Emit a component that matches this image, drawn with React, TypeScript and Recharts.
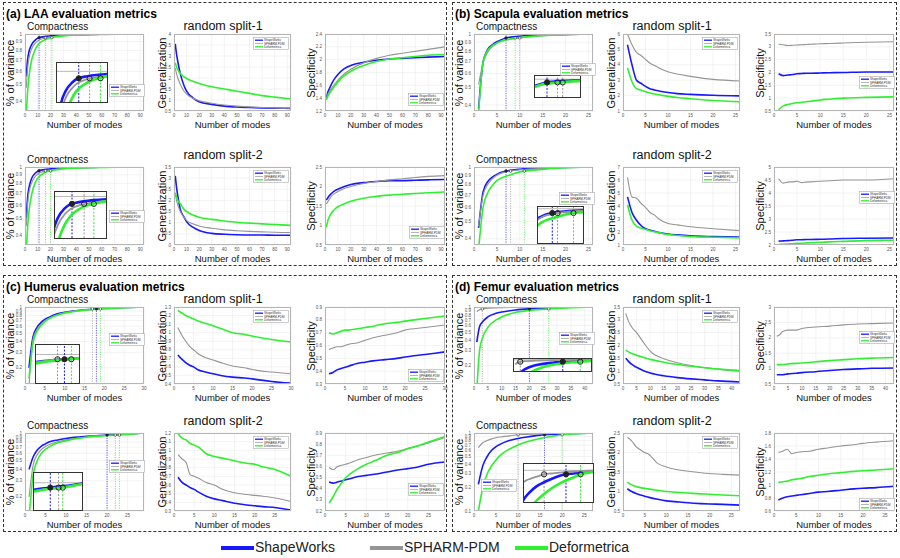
import React from "react";
import { LineChart, Line, XAxis, YAxis, CartesianGrid, ReferenceLine, ReferenceDot } from "recharts";

const FONT = '"Liberation Sans", Arial, Helvetica, sans-serif';
const BLUE = "#1818ff";
const GRAY = "#959595";
const GREEN = "#2ff02f";
const colors = [BLUE, GRAY, GREEN];
const methods = ["ShapeWorks", "SPHARM-PDM", "Deformetrica"];

// ---------- LAA ----------
const laaModes = [1, 2, 3, 5, 8, 10, 15, 20, 30, 40, 50, 60, 70, 80, 93];
const laaS1CompSW = [0.56, 0.7, 0.78, 0.86, 0.92, 0.945, 0.965, 0.975, 0.986, 0.991, 0.994, 0.996, 0.998, 0.999, 1];
const laaS1CompSP = [0.48, 0.62, 0.71, 0.81, 0.88, 0.91, 0.945, 0.96, 0.978, 0.986, 0.991, 0.994, 0.997, 0.999, 1];
const laaS1CompDF = [0.33, 0.45, 0.55, 0.69, 0.81, 0.86, 0.92, 0.95, 0.975, 0.985, 0.99, 0.994, 0.997, 0.999, 1];
const laaS1GenSW = [3.55, 3.1, 2.75, 2.2, 1.65, 1.4, 1.1, 0.92, 0.8, 0.72, 0.68, 0.66, 0.64, 0.63, 0.62];
const laaS1GenSP = [2.45, 2.2, 2.0, 1.72, 1.4, 1.27, 1.08, 0.97, 0.85, 0.77, 0.72, 0.69, 0.66, 0.64, 0.63];
const laaS1GenDF = [2.7, 2.5, 2.38, 2.2, 2.05, 1.98, 1.85, 1.75, 1.6, 1.5, 1.4, 1.3, 1.2, 1.13, 1.05];
const laaS1SpecSW = [1.38, 1.48, 1.53, 1.62, 1.72, 1.77, 1.86, 1.91, 1.96, 1.99, 2.01, 2.02, 2.03, 2.04, 2.05];
const laaS1SpecSP = [1.4, 1.45, 1.49, 1.55, 1.63, 1.68, 1.78, 1.85, 1.95, 2.02, 2.07, 2.1, 2.13, 2.16, 2.2];
const laaS1SpecDF = [1.38, 1.42, 1.46, 1.52, 1.6, 1.65, 1.75, 1.82, 1.91, 1.97, 2.01, 2.03, 2.05, 2.07, 2.08];
const laaS1Cut = [11, 16, 21];

const laaS2CompSW = [0.5, 0.66, 0.75, 0.85, 0.92, 0.945, 0.965, 0.975, 0.986, 0.991, 0.994, 0.996, 0.998, 0.999, 1];
const laaS2CompSP = [0.45, 0.6, 0.7, 0.8, 0.88, 0.91, 0.945, 0.96, 0.978, 0.986, 0.991, 0.994, 0.997, 0.999, 1];
const laaS2CompDF = [0.33, 0.44, 0.54, 0.68, 0.81, 0.86, 0.925, 0.952, 0.975, 0.985, 0.99, 0.994, 0.997, 0.999, 1];
const laaS2GenSW = [3.1, 2.6, 2.2, 1.6, 1.25, 1.05, 0.8, 0.65, 0.52, 0.48, 0.46, 0.45, 0.45, 0.44, 0.44];
const laaS2GenSP = [2.3, 2.0, 1.8, 1.5, 1.25, 1.1, 0.95, 0.85, 0.75, 0.68, 0.64, 0.61, 0.59, 0.57, 0.56];
const laaS2GenDF = [2.35, 2.15, 2.0, 1.85, 1.6, 1.5, 1.35, 1.25, 1.15, 1.08, 1.02, 0.98, 0.95, 0.92, 0.88];
const laaS2SpecSW = [1.65, 1.7, 1.75, 1.82, 1.9, 1.93, 2.0, 2.05, 2.1, 2.13, 2.15, 2.15, 2.16, 2.17, 2.18];
const laaS2SpecSP = [1.55, 1.6, 1.65, 1.75, 1.83, 1.87, 1.95, 2.0, 2.08, 2.13, 2.17, 2.2, 2.23, 2.26, 2.28];
const laaS2SpecDF = [0.95, 1.1, 1.2, 1.32, 1.43, 1.48, 1.56, 1.62, 1.7, 1.75, 1.78, 1.8, 1.82, 1.84, 1.86];
const laaS2Cut = [11, 16, 20];

// ---------- Scapula ----------
const scapModes = [1, 2, 3, 4, 5, 6, 7, 8, 10, 12, 15, 20, 26];
const scapS1CompSW = [0.38, 0.7, 0.82, 0.87, 0.905, 0.93, 0.95, 0.96, 0.972, 0.98, 0.987, 0.995, 1];
const scapS1CompSP = [0.52, 0.69, 0.79, 0.85, 0.885, 0.91, 0.925, 0.935, 0.95, 0.962, 0.975, 0.99, 1];
const scapS1CompDF = [0.36, 0.7, 0.81, 0.86, 0.89, 0.915, 0.93, 0.94, 0.955, 0.967, 0.98, 0.992, 1];
const scapS1GenSW = [5.3, 4.0, 3.0, 2.8, 2.6, 2.45, 2.37, 2.3, 2.2, 2.13, 2.08, 2.02, 1.98];
const scapS1GenSP = [6.0, 5.3, 4.8, 4.6, 4.35, 4.1, 3.95, 3.8, 3.55, 3.4, 3.25, 3.05, 2.95];
const scapS1GenDF = [3.8, 2.9, 2.45, 2.35, 2.25, 2.17, 2.1, 2.05, 1.95, 1.88, 1.8, 1.68, 1.6];
const scapS1SpecSW = [1.95, 1.88, 1.9, 1.92, 1.95, 1.96, 1.97, 1.97, 1.98, 1.99, 2.0, 2.02, 2.02];
const scapS1SpecSP = [3.1, 3.08, 3.05, 3.06, 3.07, 3.08, 3.09, 3.1, 3.12, 3.13, 3.15, 3.18, 3.2];
const scapS1SpecDF = [0.55, 0.7, 0.75, 0.79, 0.82, 0.84, 0.86, 0.88, 0.93, 0.96, 1.0, 1.03, 1.05];
const scapS1Cut = [7, 10, 9];

const scapS2CompSW = [0.46, 0.73, 0.83, 0.88, 0.91, 0.935, 0.95, 0.96, 0.972, 0.98, 0.987, 0.995, 1];
const scapS2CompSP = [0.47, 0.7, 0.8, 0.86, 0.9, 0.925, 0.94, 0.95, 0.965, 0.975, 0.985, 0.994, 1];
const scapS2CompDF = [0.35, 0.6, 0.72, 0.79, 0.84, 0.87, 0.89, 0.905, 0.94, 0.955, 0.97, 0.99, 1];
const scapS2GenSW = [4.7, 3.5, 2.9, 2.5, 2.25, 2.15, 2.05, 1.95, 1.85, 1.78, 1.7, 1.65, 1.62];
const scapS2GenSP = [6.2, 4.7, 4.6, 4.2, 3.9, 3.5, 3.3, 3.0, 2.65, 2.55, 2.4, 2.25, 2.1];
const scapS2GenDF = [4.1, 2.9, 2.45, 2.3, 2.2, 2.1, 2.02, 1.95, 1.8, 1.73, 1.65, 1.6, 1.55];
const scapS2SpecSW = [2.15, 2.16, 2.17, 2.18, 2.2, 2.2, 2.21, 2.21, 2.22, 2.23, 2.25, 2.26, 2.27];
const scapS2SpecSP = [4.55, 4.38, 4.42, 4.43, 4.45, 4.4, 4.42, 4.43, 4.45, 4.47, 4.5, 4.5, 4.55];
const scapS2SpecDF = [2.02, 2.03, 2.04, 2.05, 2.07, 2.07, 2.08, 2.09, 2.1, 2.12, 2.14, 2.17, 2.18];
const scapS2Cut = [7, 8, 11];

// ---------- Humerus ----------
const humS1Modes = [1, 2, 3, 4, 5, 6, 8, 10, 12, 15, 18, 20, 25, 30];
const humS1CompSW = [0.2, 0.45, 0.58, 0.66, 0.72, 0.76, 0.83, 0.87, 0.9, 0.93, 0.95, 0.96, 0.985, 1];
const humS1CompSP = [0.12, 0.42, 0.55, 0.63, 0.69, 0.74, 0.81, 0.86, 0.89, 0.93, 0.955, 0.965, 0.985, 1];
const humS1CompDF = [0.15, 0.38, 0.52, 0.61, 0.68, 0.73, 0.8, 0.85, 0.88, 0.92, 0.945, 0.957, 0.982, 1];
const humS1GenSW = [0.74, 0.69, 0.65, 0.62, 0.6, 0.57, 0.54, 0.52, 0.5, 0.48, 0.47, 0.46, 0.43, 0.41];
const humS1GenSP = [1.06, 0.97, 0.9, 0.84, 0.8, 0.76, 0.71, 0.68, 0.65, 0.61, 0.59, 0.57, 0.54, 0.52];
const humS1GenDF = [1.26, 1.23, 1.2, 1.18, 1.16, 1.14, 1.11, 1.08, 1.05, 1.0, 0.98, 0.96, 0.92, 0.89];
const humS1SpecSW = [0.38, 0.39, 0.41, 0.42, 0.43, 0.44, 0.46, 0.47, 0.48, 0.49, 0.5, 0.51, 0.53, 0.55];
const humS1SpecSP = [0.57, 0.58, 0.59, 0.59, 0.6, 0.61, 0.62, 0.64, 0.66, 0.68, 0.7, 0.72, 0.74, 0.76];
const humS1SpecDF = [0.7, 0.69, 0.7, 0.71, 0.72, 0.72, 0.73, 0.74, 0.75, 0.77, 0.78, 0.79, 0.81, 0.83];
const humS1Cut = [18, 17, 19];

const humS2Modes = [1, 2, 3, 4, 5, 6, 8, 10, 12, 15, 18, 20, 22, 25, 29];
const humS2CompSW = [0.4, 0.55, 0.65, 0.72, 0.76, 0.8, 0.84, 0.87, 0.895, 0.92, 0.94, 0.95, 0.96, 0.975, 1];
const humS2CompSP = [0.2, 0.45, 0.58, 0.66, 0.71, 0.75, 0.8, 0.84, 0.87, 0.905, 0.93, 0.94, 0.95, 0.968, 1];
const humS2CompDF = [0.12, 0.35, 0.5, 0.6, 0.66, 0.71, 0.78, 0.82, 0.86, 0.9, 0.925, 0.938, 0.945, 0.965, 1];
const humS2GenSW = [0.69, 0.63, 0.6, 0.57, 0.55, 0.52, 0.47, 0.44, 0.42, 0.39, 0.37, 0.36, 0.35, 0.34, 0.31];
const humS2GenSP = [0.95, 0.9, 0.86, 0.72, 0.7, 0.68, 0.63, 0.6, 0.55, 0.51, 0.49, 0.48, 0.47, 0.45, 0.41];
const humS2GenDF = [1.19, 1.14, 1.12, 1.08, 1.06, 1.04, 0.96, 0.93, 0.91, 0.88, 0.85, 0.84, 0.81, 0.78, 0.7];
const humS2SpecSW = [0.46, 0.45, 0.46, 0.47, 0.48, 0.49, 0.51, 0.52, 0.53, 0.55, 0.57, 0.58, 0.59, 0.62, 0.64];
const humS2SpecSP = [0.59, 0.57, 0.6, 0.61, 0.62, 0.63, 0.66, 0.68, 0.7, 0.72, 0.74, 0.76, 0.78, 0.81, 0.86];
const humS2SpecDF = [0.27, 0.33, 0.4, 0.45, 0.5, 0.53, 0.58, 0.62, 0.65, 0.7, 0.73, 0.76, 0.78, 0.82, 0.87];
const humS2Cut = [20, 22, 23];

// ---------- Femur ----------
const femS1Modes = [1, 2, 3, 5, 8, 10, 15, 20, 25, 30, 35, 43];
const femS1CompSW = [0.38, 0.58, 0.66, 0.76, 0.84, 0.87, 0.92, 0.95, 0.97, 0.985, 0.993, 1];
const femS1CompSP = [0.88, 0.93, 0.95, 0.965, 0.975, 0.98, 0.99, 0.993, 0.996, 0.998, 0.999, 1];
const femS1CompDF = [0.1, 0.3, 0.42, 0.57, 0.7, 0.76, 0.86, 0.91, 0.94, 0.962, 0.98, 1];
const femS1GenSW = [1.5, 1.38, 1.28, 1.15, 1.0, 0.93, 0.82, 0.75, 0.7, 0.66, 0.62, 0.58];
const femS1GenSP = [3.25, 2.95, 2.75, 2.5, 2.05, 1.78, 1.48, 1.33, 1.22, 1.14, 1.08, 1.0];
const femS1GenDF = [1.82, 1.75, 1.7, 1.62, 1.52, 1.46, 1.35, 1.26, 1.19, 1.13, 1.08, 1.02];
const femS1SpecSW = [0.8, 0.8, 0.8, 0.83, 0.85, 0.87, 0.9, 0.94, 0.97, 0.99, 1.01, 1.02];
const femS1SpecSP = [2.05, 2.1, 2.2, 2.25, 2.25, 2.3, 2.35, 2.38, 2.42, 2.45, 2.46, 2.48];
const femS1SpecDF = [1.13, 1.13, 1.13, 1.15, 1.17, 1.18, 1.22, 1.26, 1.29, 1.32, 1.34, 1.36];
const femS1Cut = [20, 3, 27];

const femS2Modes = [1, 2, 3, 4, 5, 6, 8, 10, 12, 15, 18, 20, 23, 27];
const femS2CompSW = [0.22, 0.38, 0.5, 0.6, 0.67, 0.72, 0.8, 0.85, 0.89, 0.94, 0.96, 0.97, 0.985, 1];
const femS2CompSP = [0.65, 0.75, 0.8, 0.84, 0.87, 0.89, 0.92, 0.95, 0.96, 0.975, 0.985, 0.99, 0.995, 1];
const femS2CompDF = [0.1, 0.2, 0.3, 0.38, 0.45, 0.52, 0.62, 0.7, 0.77, 0.85, 0.91, 0.95, 0.975, 1];
const femS2GenSW = [1.07, 1.0, 0.95, 0.91, 0.88, 0.85, 0.8, 0.76, 0.74, 0.71, 0.69, 0.68, 0.67, 0.65];
const femS2GenSP = [2.39, 2.3, 2.15, 2.07, 2.0, 1.95, 1.72, 1.63, 1.57, 1.52, 1.48, 1.46, 1.44, 1.42];
const femS2GenDF = [1.24, 1.17, 1.13, 1.1, 1.08, 1.06, 1.03, 1.0, 0.98, 0.96, 0.94, 0.93, 0.91, 0.89];
const femS2SpecSW = [0.77, 0.8, 0.82, 0.83, 0.84, 0.85, 0.87, 0.89, 0.9, 0.92, 0.94, 0.95, 0.96, 0.98];
const femS2SpecSP = [1.5, 1.52, 1.55, 1.48, 1.5, 1.51, 1.52, 1.55, 1.57, 1.6, 1.62, 1.64, 1.66, 1.68];
const femS2SpecDF = [1.04, 1.05, 1.06, 1.08, 1.09, 1.1, 1.13, 1.15, 1.17, 1.19, 1.21, 1.22, 1.23, 1.25];
const femS2Cut = [16, 10, 20];

// ---------- tick labels ----------
const ticks10to90 = [0, 10, 20, 30, 40, 50, 60, 70, 80, 90];
const ticks5to25 = [0, 5, 10, 15, 20, 25];
const ticks5to30 = [0, 5, 10, 15, 20, 25, 30];
const ticks5to40 = [0, 5, 10, 15, 20, 25, 30, 35, 40];
const compTicks4 = [0.4, 0.5, 0.6, 0.7, 0.8, 0.9, 1];
const compTicks2 = [0.2, 0.3, 0.4, 0.5, 0.6, 0.7, 0.8, 0.9, 1];
const compTicks1 = [0.1, 0.2, 0.3, 0.4, 0.5, 0.6, 0.7, 0.8, 0.9, 1];

type Row = { mode: number; sw: number; sp: number; df: number };
const table = (modes: number[], sw: number[], sp: number[], df: number[]): Row[] =>
  modes.map((mode, i) => ({ mode, sw: sw[i], sp: sp[i], df: df[i] }));

type Inset = { x: number; y: number; w: number; h: number; xr: [number, number]; yr: [number, number] };
type Split = {
  comp: Row[]; gen: Row[]; spec: Row[]; cut: number[];
  xMax: number; xTicks: number[];
  compDomain: [number, number]; compTicks: number[];
  genDomain: [number, number]; genTicks: number[];
  specDomain: [number, number]; specTicks: number[];
  inset: Inset; compLegend: [number, number]; specLegend: [number, number];
};

const lines = (w: number) =>
  (["sw", "sp", "df"] as const).map((k, i) => (
    <Line key={k} type="monotone" dataKey={k} stroke={colors[i]} strokeWidth={i === 1 ? w * 0.7 : w}
      dot={false} isAnimationActive={false} />
  ));

function MiniLegend({ x, y }: { x: number; y: number }) {
  return (
    <svg style={{ position: "absolute", left: x, top: y }} width={36} height={13}>
      <rect x={0.5} y={0.5} width={35} height={12} fill="#fff" stroke="#999" strokeWidth={0.5} />
      {methods.map((m, i) => (
        <g key={m}>
          <line x1={2} x2={10} y1={3.2 + i * 3.3} y2={3.2 + i * 3.3} stroke={colors[i]} strokeWidth={i === 1 ? 0.7 : 1.3} />
          <text x={11} y={4.3 + i * 3.3} fontSize={3} fill="#333" fontFamily={FONT}>{m}</text>
        </g>
      ))}
    </svg>
  );
}

type PlotProps = {
  x: number; y: number; w: number; h: number; rows: Row[]; xMax: number; xTicks: number[];
  domain: [number, number]; ticks: number[]; log?: boolean; cut?: number[];
};

function Plot({ x, y, w, h, rows, xMax, xTicks, domain, ticks, log, cut }: PlotProps) {
  const tick = { fontSize: 4.5, fill: "#555", fontFamily: FONT };
  return (
    <>
      <div style={{ position: "absolute", left: x - 11, top: y - 4 }}>
        <LineChart width={w + 16} height={h + 12} data={rows} margin={{ top: 4, right: 5, bottom: 0, left: 0 }}>
          <CartesianGrid stroke="#e6e6e6" strokeWidth={0.5} />
          <XAxis dataKey="mode" type="number" domain={[0, xMax]} ticks={xTicks} interval={0} height={8}
            tick={tick} tickLine={false} tickSize={2} axisLine={false} tickMargin={1} />
          <YAxis type="number" scale={log ? "log" : "linear"} domain={domain} ticks={ticks} interval={0}
            allowDataOverflow width={11} tick={tick} tickLine={false} tickSize={2} axisLine={false} tickMargin={1} />
          {cut && cut.map((c, i) => (
            <ReferenceLine key={"v" + i} x={c} stroke={colors[i]} strokeWidth={0.7} strokeDasharray="1.2 1.2" />
          ))}
          {lines(1.6)}
          {cut && cut.map((c, i) => (
            <ReferenceDot key={"d" + i} x={c} y={0.95} r={1.3} fill={i === 0 ? "#222" : "#fff"} stroke="#222" strokeWidth={0.6} />
          ))}
        </LineChart>
      </div>
      <div style={{ position: "absolute", left: x, top: y, width: w, height: h, border: "0.5px solid #b5b5b5", boxSizing: "border-box", pointerEvents: "none" }} />
    </>
  );
}

function Zoom({ box, rows, cut }: { box: Inset; rows: Row[]; cut: number[] }) {
  return (
    <div style={{ position: "absolute", left: box.x, top: box.y, width: box.w, height: box.h, background: "#fff", border: "1px solid #333", boxSizing: "border-box", overflow: "hidden" }}>
      <LineChart width={box.w - 2} height={box.h - 2} data={rows} margin={{ top: 0, right: 0, bottom: 0, left: 0 }}>
        <XAxis dataKey="mode" type="number" domain={box.xr} allowDataOverflow hide />
        <YAxis type="number" domain={box.yr} allowDataOverflow hide />
        <ReferenceLine y={1} stroke="#888" strokeWidth={0.6} />
        {cut.map((c, i) => (
          <ReferenceLine key={"v" + i} x={c} stroke={colors[i]} strokeWidth={1} strokeDasharray="2 1.5" />
        ))}
        {lines(2.6)}
        {cut.map((c, i) => (
          <ReferenceDot key={"d" + i} x={c} y={0.95} r={2.6} fill={i === 0 ? "#222" : "none"} stroke="#222" strokeWidth={1} />
        ))}
      </LineChart>
    </div>
  );
}

// centred label, optionally rotated like a y-axis title
const label = (s: string, cx: number, cy: number, size: number, rotate = false, key?: string) => (
  <div key={key} style={{ position: "absolute", left: cx, top: cy, transform: `translate(-50%,-50%)${rotate ? " rotate(-90deg)" : ""}`,
    fontFamily: FONT, fontSize: size, lineHeight: 1, whiteSpace: "nowrap", color: "#111" }}>
    {s}
  </div>
);

const cols = [{ x: 21, w: 119 }, { x: 170, w: 117 }, { x: 321, w: 120 }];

function Quadrant({ x, y, w, h, title, splits }: { x: number; y: number; w: number; h: number; title: string; splits: Split[] }) {
  return (
    <div style={{ position: "absolute", left: x, top: y, width: w, height: h, border: "1.5px dashed #333", boxSizing: "border-box" }}>
      <div style={{ position: "absolute", left: 2, top: 4, fontFamily: FONT, fontWeight: 700, fontSize: 12, whiteSpace: "nowrap" }}>{title}</div>
      {splits.map((s, r) => {
        const top = r === 0 ? 31 : h - 100;
        const ph = r === 0 ? 77 : 78;
        const lab = top + ph + 14;
        return (
          <React.Fragment key={r}>
            <div style={{ position: "absolute", left: 23, top: top - 12, fontFamily: FONT, fontSize: 10, lineHeight: 1, whiteSpace: "nowrap", color: "#111" }}>Compactness</div>
            {label(`random split-${r + 1}`, 219, top - (r === 0 ? 8 : 12), 12.5)}
            {label("% of variance", 6, top + ph / 2, 11, true)}
            {label("Generalization", 158, top + ph / 2, 11, true)}
            {label("Specificity", 307, top + ph / 2, 11, true)}
            {cols.map((c, i) => label("Number of modes", c.x + c.w / 2, lab, 9.5, false, "x" + i))}
            <Plot x={cols[0].x} y={top} w={cols[0].w} h={ph} rows={s.comp} xMax={s.xMax} xTicks={s.xTicks}
              domain={s.compDomain} ticks={s.compTicks} log cut={s.cut} />
            <Plot x={cols[1].x} y={top} w={cols[1].w} h={ph} rows={s.gen} xMax={s.xMax} xTicks={s.xTicks}
              domain={s.genDomain} ticks={s.genTicks} />
            <Plot x={cols[2].x} y={top} w={cols[2].w} h={ph} rows={s.spec} xMax={s.xMax} xTicks={s.xTicks}
              domain={s.specDomain} ticks={s.specTicks} />
            <Zoom box={s.inset} rows={s.comp} cut={s.cut} />
            <MiniLegend x={s.compLegend[0]} y={s.compLegend[1]} />
            <MiniLegend x={cols[1].x + cols[1].w - 38} y={top + 3} />
            <MiniLegend x={s.specLegend[0]} y={s.specLegend[1]} />
          </React.Fragment>
        );
      })}
    </div>
  );
}

const laa: Split[] = [
  {
    comp: table(laaModes, laaS1CompSW, laaS1CompSP, laaS1CompDF), gen: table(laaModes, laaS1GenSW, laaS1GenSP, laaS1GenDF),
    spec: table(laaModes, laaS1SpecSW, laaS1SpecSP, laaS1SpecDF), cut: laaS1Cut, xMax: 93, xTicks: ticks10to90,
    compDomain: [0.35, 1], compTicks: compTicks4, genDomain: [0.5, 4], genTicks: [0.5, 1, 1.5, 2, 2.5, 3, 3.5, 4],
    specDomain: [1.2, 2.4], specTicks: [1.2, 1.4, 1.6, 1.8, 2, 2.2, 2.4],
    inset: { x: 52, y: 59, w: 52, h: 41, xr: [1, 24], yr: [0.78, 1.06] }, compLegend: [105, 81], specLegend: [404, 90],
  },
  {
    comp: table(laaModes, laaS2CompSW, laaS2CompSP, laaS2CompDF), gen: table(laaModes, laaS2GenSW, laaS2GenSP, laaS2GenDF),
    spec: table(laaModes, laaS2SpecSW, laaS2SpecSP, laaS2SpecDF), cut: laaS2Cut, xMax: 93, xTicks: ticks10to90,
    compDomain: [0.35, 1], compTicks: compTicks4, genDomain: [0, 3.5], genTicks: [0, 0.5, 1, 1.5, 2, 2.5, 3, 3.5],
    specDomain: [0.5, 2.5], specTicks: [0.5, 1, 1.5, 2, 2.5],
    inset: { x: 50, y: 188, w: 53, h: 48, xr: [4, 25], yr: [0.72, 1.03] }, compLegend: [105, 207], specLegend: [405, 223],
  },
];

const scapula: Split[] = [
  {
    comp: table(scapModes, scapS1CompSW, scapS1CompSP, scapS1CompDF), gen: table(scapModes, scapS1GenSW, scapS1GenSP, scapS1GenDF),
    spec: table(scapModes, scapS1SpecSW, scapS1SpecSP, scapS1SpecDF), cut: scapS1Cut, xMax: 26, xTicks: ticks5to25,
    compDomain: [0.37, 1], compTicks: compTicks4, genDomain: [1, 6], genTicks: [1, 2, 3, 4, 5, 6],
    specDomain: [0.5, 3.5], specTicks: [0.5, 1, 1.5, 2, 2.5, 3, 3.5],
    inset: { x: 81, y: 72, w: 47, h: 23, xr: [4.7, 13.3], yr: [0.72, 1.05] }, compLegend: [107, 60], specLegend: [406, 73],
  },
  {
    comp: table(scapModes, scapS2CompSW, scapS2CompSP, scapS2CompDF), gen: table(scapModes, scapS2GenSW, scapS2GenSP, scapS2GenDF),
    spec: table(scapModes, scapS2SpecSW, scapS2SpecSP, scapS2SpecDF), cut: scapS2Cut, xMax: 26, xTicks: ticks5to25,
    compDomain: [0.37, 1], compTicks: compTicks4, genDomain: [1, 7], genTicks: [1, 2, 3, 4, 5, 6, 7],
    specDomain: [2, 5], specTicks: [2, 2.5, 3, 3.5, 4, 4.5, 5],
    inset: { x: 84, y: 203, w: 47, h: 38, xr: [4.3, 12.8], yr: [0.6, 1.02] }, compLegend: [106, 189], specLegend: [406, 188],
  },
];

const humerus: Split[] = [
  {
    comp: table(humS1Modes, humS1CompSW, humS1CompSP, humS1CompDF), gen: table(humS1Modes, humS1GenSW, humS1GenSP, humS1GenDF),
    spec: table(humS1Modes, humS1SpecSW, humS1SpecSP, humS1SpecDF), cut: humS1Cut, xMax: 30, xTicks: ticks5to30,
    compDomain: [0.13, 1], compTicks: compTicks2, genDomain: [0.4, 1.3], genTicks: [0.4, 0.5, 0.6, 0.7, 0.8, 0.9, 1, 1.1, 1.2, 1.3],
    specDomain: [0.3, 0.9], specTicks: [0.3, 0.4, 0.5, 0.6, 0.7, 0.8, 0.9],
    inset: { x: 31, y: 68, w: 45, h: 40, xr: [13.9, 20.1], yr: [0.7, 1.1] }, compLegend: [105, 57], specLegend: [404, 93],
  },
  {
    comp: table(humS2Modes, humS2CompSW, humS2CompSP, humS2CompDF), gen: table(humS2Modes, humS2GenSW, humS2GenSP, humS2GenDF),
    spec: table(humS2Modes, humS2SpecSW, humS2SpecSP, humS2SpecDF), cut: humS2Cut, xMax: 29, xTicks: ticks5to25,
    compDomain: [0.14, 1], compTicks: compTicks2, genDomain: [0.3, 1.2], genTicks: [0.3, 0.4, 0.5, 0.6, 0.7, 0.8, 0.9, 1, 1.1, 1.2],
    specDomain: [0.2, 0.9], specTicks: [0.2, 0.3, 0.4, 0.5, 0.6, 0.7, 0.8, 0.9],
    inset: { x: 29, y: 196, w: 50, h: 39, xr: [16.1, 27.6], yr: [0.72, 1.1] }, compLegend: [105, 184], specLegend: [404, 207],
  },
];

const femur: Split[] = [
  {
    comp: table(femS1Modes, femS1CompSW, femS1CompSP, femS1CompDF), gen: table(femS1Modes, femS1GenSW, femS1GenSP, femS1GenDF),
    spec: table(femS1Modes, femS1SpecSW, femS1SpecSP, femS1SpecDF), cut: femS1Cut, xMax: 43, xTicks: ticks5to40,
    compDomain: [0.12, 1], compTicks: compTicks2, genDomain: [0.5, 3.5], genTicks: [0.5, 1, 1.5, 2, 2.5, 3, 3.5],
    specDomain: [0.5, 3], specTicks: [0.5, 1, 1.5, 2, 2.5, 3],
    inset: { x: 60, y: 82, w: 79, h: 14, xr: [0.5, 31.3], yr: [0.71, 1.02] }, compLegend: [106, 56], specLegend: [406, 55],
  },
  {
    comp: table(femS2Modes, femS2CompSW, femS2CompSP, femS2CompDF), gen: table(femS2Modes, femS2GenSW, femS2GenSP, femS2GenDF),
    spec: table(femS2Modes, femS2SpecSW, femS2SpecSP, femS2SpecDF), cut: femS2Cut, xMax: 27, xTicks: ticks5to25,
    compDomain: [0.1, 1], compTicks: compTicks1, genDomain: [0.5, 2.5], genTicks: [0.5, 1, 1.5, 2, 2.5],
    specDomain: [0.6, 1.8], specTicks: [0.6, 0.8, 1, 1.2, 1.4, 1.6, 1.8],
    inset: { x: 70, y: 187, w: 71, h: 40, xr: [4.5, 23.4], yr: [0.6, 1.08] }, compLegend: [28, 203], specLegend: [406, 222],
  },
];

export default function App() {
  return (
    <div style={{ position: "absolute", left: 0, top: 0, width: 900, height: 558, background: "#fff", overflow: "hidden" }}>
      <Quadrant x={3} y={2} w={444} h={264} title="(a) LAA evaluation metrics" splits={laa} />
      <Quadrant x={452} y={2} w={445} h={264} title="(b) Scapula evaluation metrics" splits={scapula} />
      <Quadrant x={3} y={275} w={444} h={257} title="(c) Humerus evaluation metrics" splits={humerus} />
      <Quadrant x={452} y={275} w={445} h={257} title="(d) Femur evaluation metrics" splits={femur} />
      {methods.map((m, i) => {
        const lx = [221, 370, 515][i];
        return (
          <React.Fragment key={m}>
            <div style={{ position: "absolute", left: lx, top: 546, width: 33, height: 4, background: colors[i] }} />
            <div style={{ position: "absolute", left: lx + 34, top: 539, fontFamily: FONT, fontSize: 14, color: "#222", whiteSpace: "nowrap" }}>{m}</div>
          </React.Fragment>
        );
      })}
    </div>
  );
}
